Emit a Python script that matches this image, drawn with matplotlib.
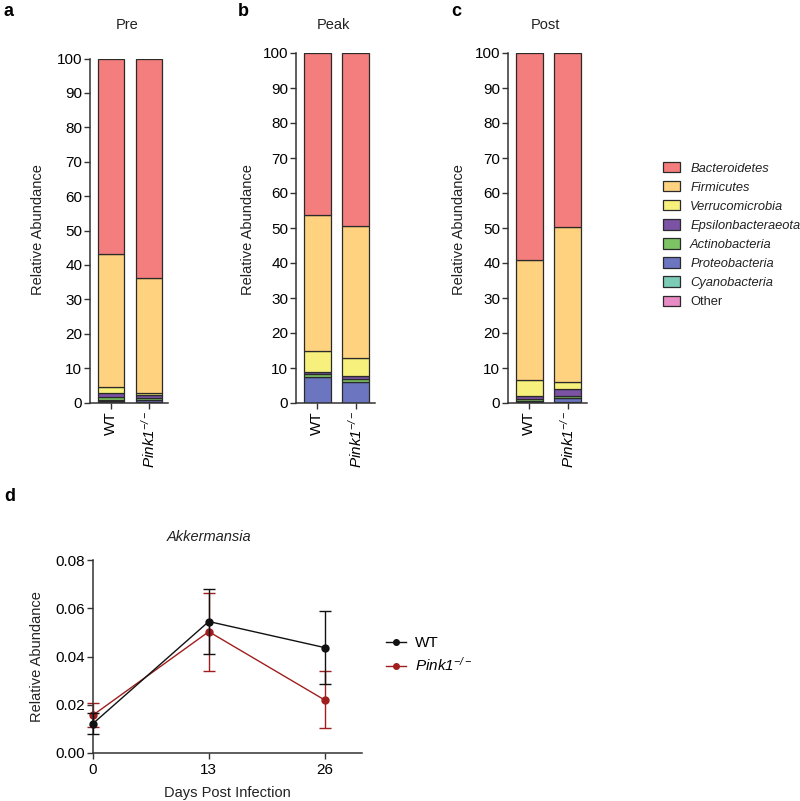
import matplotlib
matplotlib.use("Agg")
import matplotlib.pyplot as plt
from matplotlib.patches import Patch
from matplotlib.lines import Line2D
import numpy as np

plt.rcParams['font.family'] = ['Liberation Sans', 'DejaVu Sans']
plt.rcParams['mathtext.fontset'] = 'custom'
plt.rcParams['mathtext.rm'] = 'Liberation Sans:italic'
plt.rcParams['mathtext.it'] = 'Liberation Sans:italic'

# ---------------- data ----------------
phyla = ['Bacteroidetes', 'Firmicutes', 'Verrucomicrobia', 'Epsilonbacteraeota',
         'Actinobacteria', 'Proteobacteria', 'Cyanobacteria', 'Other']
colors = ['#F47D7D', '#FED27E', '#F8F07C', '#7B52A4', '#7CC463', '#6B75C0', '#7CCBB6', '#E88BC4']
groups = ['WT', r'$Pink1^{-/-}$']
timepoints = ['Pre', 'Peak', 'Post']
panel_letters = ['a', 'b', 'c']

# values per timepoint, [WT, Pink1] for each phylum except Bacteroidetes (remainder)
firmicutes      = {'Pre': [38.8, 33.2], 'Peak': [38.8, 37.6], 'Post': [34.3, 44.3]}
verrucomicrobia = {'Pre': [1.8, 0.8],   'Peak': [6.0, 5.1],   'Post': [4.8, 1.9]}
epsilon         = {'Pre': [1.1, 0.8],   'Peak': [0.8, 0.8],   'Post': [0.7, 2.0]}
actinobacteria  = {'Pre': [0.8, 0.6],   'Peak': [0.9, 1.1],   'Post': [0.5, 0.6]}
proteobacteria  = {'Pre': [0.5, 0.5],   'Peak': [7.2, 5.8],   'Post': [0.5, 1.3]}
cyanobacteria   = {'Pre': [0.1, 0.1],   'Peak': [0.05, 0.05], 'Post': [0.1, 0.1]}
other           = {'Pre': [0.2, 0.1],   'Peak': [0.05, 0.05], 'Post': [0.1, 0.1]}

# Akkermansia
days = [0, 13, 26]
wt_mean = [0.0122, 0.0545, 0.0437]
wt_err = [0.0042, 0.0135, 0.0150]
pk_mean = [0.0157, 0.0503, 0.0220]
pk_err = [0.0050, 0.0162, 0.0118]

# ---------------- figure ----------------
fig = plt.figure(figsize=(8.0, 8.01), dpi=100)
W, H = 800, 801

def fa(x0, y_top, x1, y_bot):
    return [x0 / W, 1 - y_bot / H, (x1 - x0) / W, (y_bot - y_top) / H]

axes_px = [(90, 58.5, 168, 402.5), (296, 53, 375, 403), (508, 53, 587, 403)]
ylabel_x = [38, 248, 459]
letter_x = [4, 238, 451]

for i, tp in enumerate(timepoints):
    ax = fig.add_axes(fa(*axes_px[i]))
    stack_bottom_to_top = [other[tp], cyanobacteria[tp], proteobacteria[tp], actinobacteria[tp],
                           epsilon[tp], verrucomicrobia[tp], firmicutes[tp]]
    cols_btt = colors[::-1]
    x = np.arange(len(groups))
    bottom = np.zeros(len(groups))
    for vals, c in zip(stack_bottom_to_top, cols_btt[:-1]):
        v = np.array(vals)
        ax.bar(x, v, 0.7, bottom=bottom, color=c, edgecolor='#2a2a2a', linewidth=0.9)
        bottom += v
    bact = 100 - bottom
    ax.bar(x, bact, 0.7, bottom=bottom, color=cols_btt[-1], edgecolor='#2a2a2a', linewidth=0.9)
    ax.set_xlim(-0.55, 1.5)
    ax.set_ylim(0, 100)
    ax.set_yticks(np.arange(0, 101, 10))
    ax.set_xticks(x)
    ax.set_xticklabels(groups, rotation=90, fontsize=11)
    ax.tick_params(axis='y', labelsize=11, length=4, width=1, color='#333333', pad=1.5)
    ax.tick_params(axis='x', length=4, width=1, color='#333333', pad=2)
    for s in ['top', 'right']:
        ax.spines[s].set_visible(False)
    for s in ['left', 'bottom']:
        ax.spines[s].set_linewidth(1.1)
        ax.spines[s].set_color('#333333')
    fig.text(ylabel_x[i] / W, 1 - 230 / H, 'Relative Abundance', rotation=90,
             ha='center', va='center', fontsize=10.5, color='#222222')
    cx = (axes_px[i][0] + axes_px[i][2]) / 2
    fig.text((cx - 2) / W, 1 - 25 / H, tp, ha='center', va='center', fontsize=10.5, color='#222222')
    fig.text(letter_x[i] / W, 1 - 12 / H, panel_letters[i], ha='left', va='center',
             fontsize=13, fontweight='bold')

# legend for stacked bars
handles = [Patch(facecolor=c, edgecolor='#2a2a2a', linewidth=0.9) for c in colors]
leg = fig.legend(handles, phyla, loc='upper left', bbox_to_anchor=(663 / W, 1 - 162 / H),
                 frameon=False, fontsize=9.3, handlelength=1.35, handleheight=0.85,
                 labelspacing=0.5, handletextpad=0.75, borderaxespad=0, borderpad=0)
for t, p in zip(leg.get_texts(), phyla):
    t.set_color('#222222')
    if p != 'Other':
        t.set_fontstyle('italic')

# ---------------- panel d ----------------
axd = fig.add_axes(fa(93, 560, 362, 753))
red = '#A01E1E'
axd.errorbar(days, wt_mean, yerr=wt_err, color='#111111', marker='o', markersize=5,
             linewidth=1.0, capsize=4, elinewidth=1.0, capthick=1.0, zorder=3)
axd.errorbar(days, pk_mean, yerr=pk_err, color=red, marker='o', markersize=5,
             linewidth=1.0, capsize=4, elinewidth=1.0, capthick=1.0, zorder=2,
             ecolor=red)
axd.set_xlim(0, 30.2)
axd.set_ylim(0, 0.08)
axd.set_xticks(days)
axd.set_yticks([0, 0.02, 0.04, 0.06, 0.08])
axd.set_yticklabels(['0.00', '0.02', '0.04', '0.06', '0.08'])
axd.tick_params(labelsize=11, length=4, width=1, color='#333333')
axd.tick_params(axis='y', pad=1.5)
for s in ['top', 'right']:
    axd.spines[s].set_visible(False)
for s in ['left', 'bottom']:
    axd.spines[s].set_linewidth(1.1)
    axd.spines[s].set_color('#333333')
for ln in axd.get_children():
    try:
        ln.set_clip_on(False)
    except Exception:
        pass
axd.set_xlabel('Days Post Infection', fontsize=10.5, color='#222222', labelpad=6)
fig.text(37 / W, 1 - 657 / H, 'Relative Abundance', rotation=90, ha='center',
         va='center', fontsize=10.5, color='#222222')
axd.text(13, 0.0895, 'Akkermansia', ha='center', va='center', fontsize=10.5,
         style='italic', color='#222222')
fig.text(4 / W, 1 - 497 / H, 'd', ha='left', va='center', fontsize=13, fontweight='bold')

lh = [Line2D([0], [0], color='#111111', marker='o', markersize=4, linewidth=1.0),
      Line2D([0], [0], color=red, marker='o', markersize=4, linewidth=1.0)]
fig.legend(lh, ['WT', r'$Pink1^{-/-}$'], loc='upper left',
           bbox_to_anchor=(380 / W, 1 - 630 / H), frameon=False, fontsize=11,
           handlelength=1.3, handletextpad=0.6, labelspacing=0.4, borderaxespad=0)

fig.savefig('out.png', dpi=100)
